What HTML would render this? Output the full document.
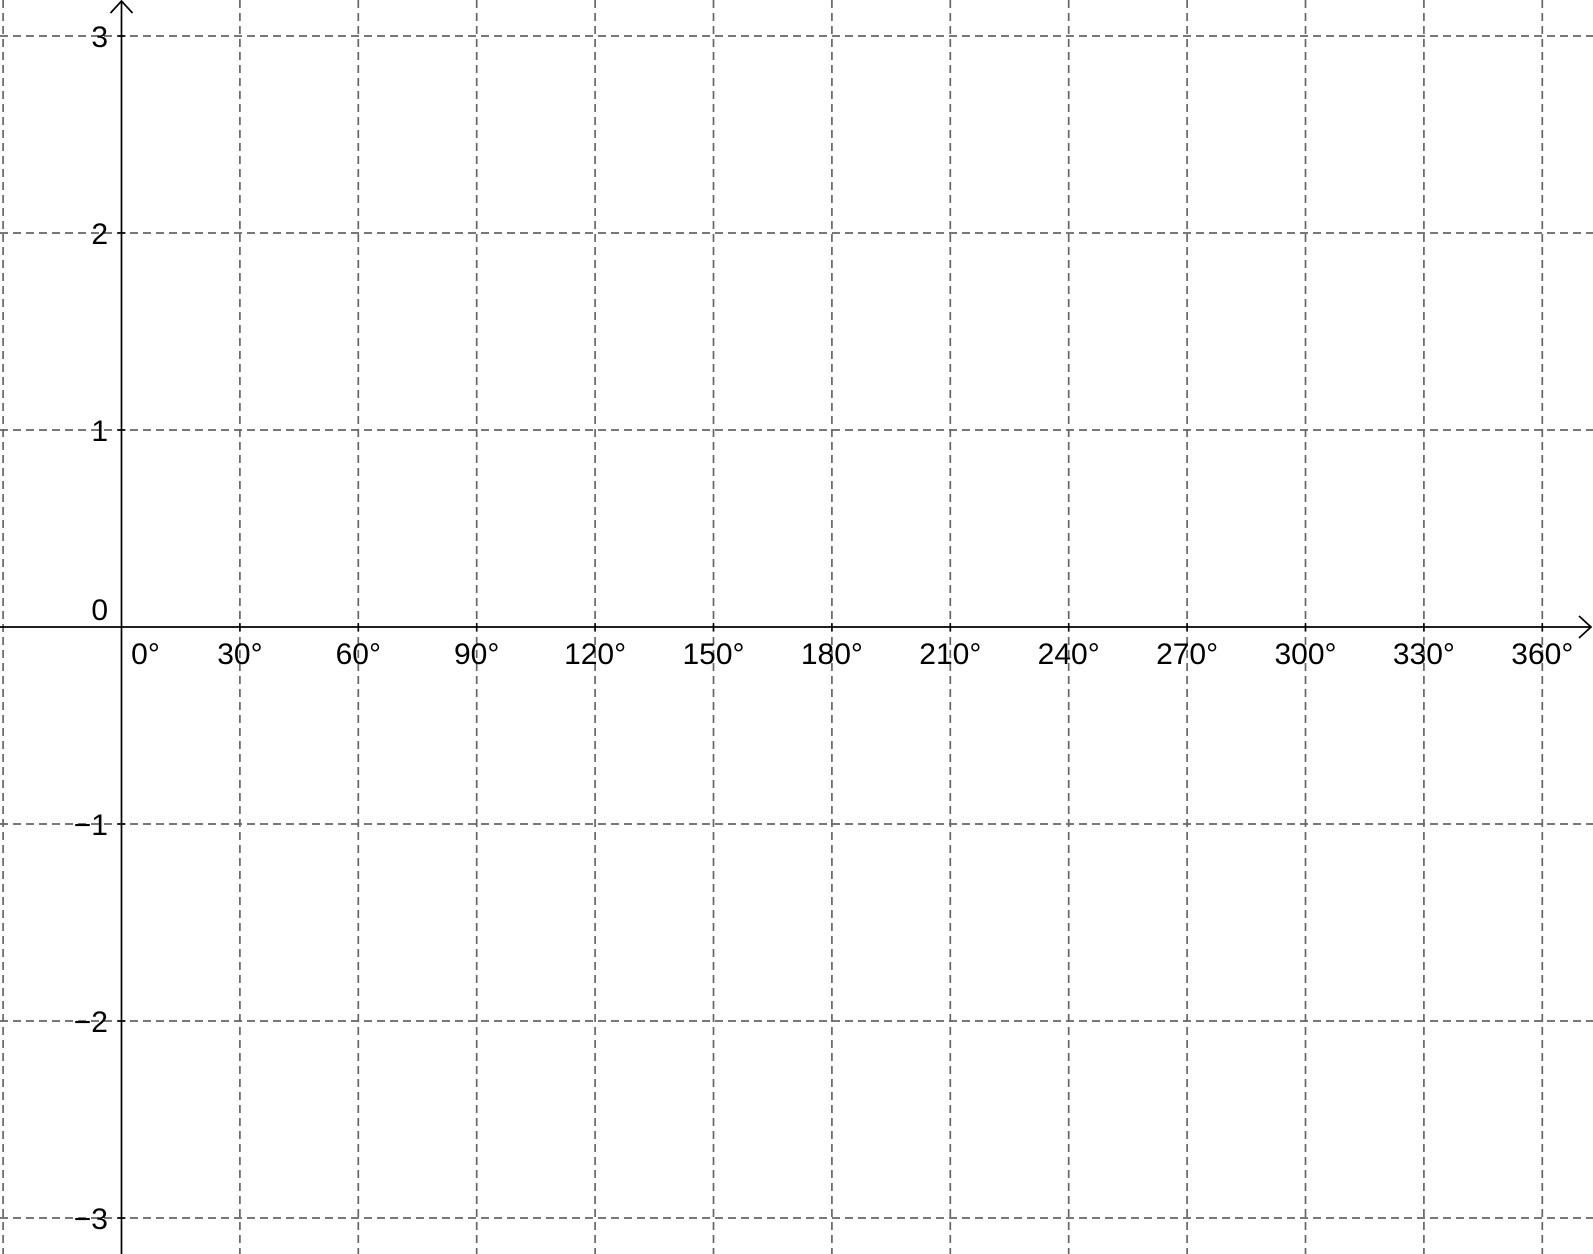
<!DOCTYPE html>
<html><head><meta charset="utf-8"><style>
html,body{margin:0;padding:0;background:#fff;}
svg{display:block;font-family:"Liberation Sans",sans-serif;}
</style></head><body>
<svg id="chart" width="1593" height="1254" viewBox="0 0 1593 1254" xmlns="http://www.w3.org/2000/svg"></svg>
<script>
const xTickValues = [-30,0,30,60,90,120,150,180,210,240,270,300,330,360];
const xTickLabels = ["","0°","30°","60°","90°","120°","150°","180°","210°","240°","270°","300°","330°","360°"];
const yTickValues = [-3,-2,-1,0,1,2,3];
const yTickLabels = ["−3","−2","−1","0","1","2","3"];

const ox = 121.5, oy = 627, pxPerDeg = 118.4/30, pxPerUnit = 197;
const sx = v => ox + v*pxPerDeg;
const sy = v => oy - v*pxPerUnit;
const W = 1593, H = 1254, NS = "http://www.w3.org/2000/svg";
const svg = document.getElementById('chart');
function mk(tag, attrs){const e=document.createElementNS(NS,tag);for(const k in attrs)e.setAttribute(k,attrs[k]);svg.appendChild(e);return e;}

xTickValues.forEach((v,i)=>{
  if(v===0) return;
  const l = mk('line',{x1:sx(v),x2:sx(v),y1:0,y2:H,stroke:'#666','stroke-width':1.7,'stroke-dasharray':'8,5'});
  
  
});
yTickValues.forEach((v,i)=>{
  if(v===0) return;
  const l = mk('line',{x1:0,x2:W,y1:sy(v),y2:sy(v),stroke:'#666','stroke-width':1.7,'stroke-dasharray':'8,5'});
  
  
});
const xa = mk('path',{d:`M0 ${oy} H${W-2} M${W-14} ${oy-11} L${W-2} ${oy} L${W-14} ${oy+11}`,stroke:'#000','stroke-width':1.7,fill:'none'});


const ya = mk('path',{d:`M${ox} ${H} V1 M${ox-11} 13 L${ox} 1 L${ox+11} 13`,stroke:'#000','stroke-width':1.7,fill:'none'});



xTickValues.forEach((v,i)=>{
  if(!xTickLabels[i]) return;
  if(v!==0){
    const tk = mk('line',{x1:sx(v),x2:sx(v),y1:oy-4,y2:oy+4,stroke:'#000','stroke-width':1.5});
    
    
  }
  const x = v===0 ? sx(v)+24 : sx(v);
  const t = mk('text',{x:x,y:oy+37,'font-size':30,'text-anchor':'middle',fill:'#000'});
  t.textContent = xTickLabels[i];
  
  
});
yTickValues.forEach((v,i)=>{
  if(v!==0){
    const tk = mk('line',{x1:ox-4,x2:ox+4,y1:sy(v),y2:sy(v),stroke:'#000','stroke-width':1.5});
    
    
  }
  const y = v===0 ? oy-7 : sy(v)+11;
  const t = mk('text',{x:108,y:y,'font-size':30,'text-anchor':'end',fill:'#000'});
  t.textContent = yTickLabels[i];
  
  
});
</script>
</body></html>
